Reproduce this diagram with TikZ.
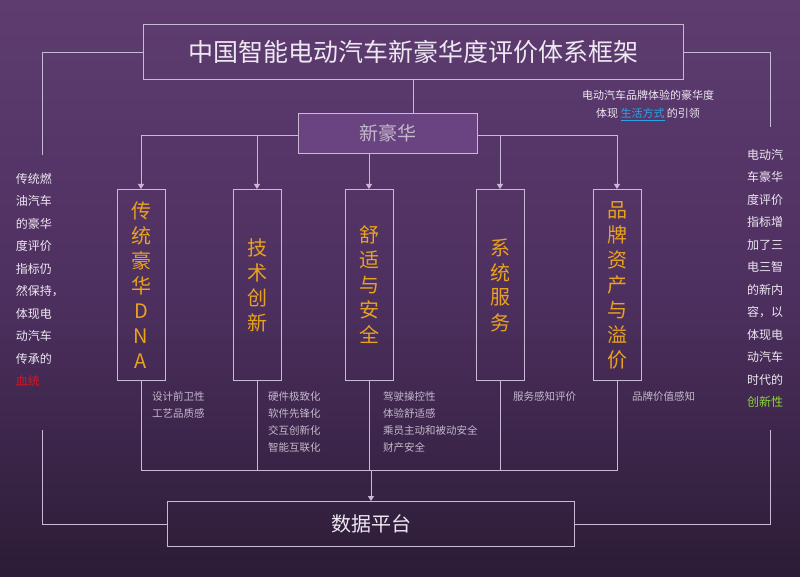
\documentclass[tikz,border=0pt]{standalone}
\usepackage{fontspec}
\newfontfamily\cjk{Noto Sans CJK SC}
\usetikzlibrary{arrows.meta}
\definecolor{ln}{HTML}{C9B8D6}
\definecolor{org}{HTML}{E9A21E}
\definecolor{sub}{HTML}{C4B9CC}
\definecolor{bgtop}{HTML}{5E3C70}
\definecolor{bgbot}{HTML}{2C1C36}
\definecolor{bgmid}{HTML}{4E3060}
\definecolor{boxfill}{HTML}{6A4480}
\definecolor{txt}{HTML}{EEE8F2}
\definecolor{blu}{HTML}{2AA6E8}
\definecolor{rd}{HTML}{E8101A}
\definecolor{grn}{HTML}{8CD23C}
\begin{document}
\begin{tikzpicture}[x=1pt,y=-1pt,
  bx/.style={draw=ln,line width=0.9pt},
  col/.style={bx,minimum width=48pt,minimum height=191pt,anchor=north,text=org,font=\cjk\fontsize{20}{25}\selectfont,align=center,inner sep=0pt},
  sublab/.style={anchor=north west,text=sub,font=\cjk\fontsize{10.5}{17}\selectfont,align=left,inner sep=0pt},
  side/.style={anchor=north,text=txt,font=\cjk\fontsize{12}{22.5}\selectfont,align=left,inner sep=0pt},
  wire/.style={ln,line width=0.9pt},
  arr/.style={wire,-{Triangle[width=6pt,length=5pt]}}]
\shade[top color=bgtop,bottom color=bgbot,middle color=bgmid] (0,0) rectangle (800,577);
\useasboundingbox (0,0) rectangle (800,577);
% title
\node[bx,minimum width=540pt,minimum height=55pt,text=txt,font=\cjk\fontsize{25}{30}\selectfont] (title) at (413,52) {中国智能电动汽车新豪华度评价体系框架};
\node[bx,minimum width=179pt,minimum height=40pt,text=sub,font=\cjk\fontsize{19}{23}\selectfont,fill=boxfill] (xhh) at (388,133) {新豪华};
\node[bx,minimum width=407pt,minimum height=45pt,text=txt,font=\cjk\fontsize{20}{24}\selectfont] (data) at (371,524) {数据平台};
% columns
\node[col] (c1) at (141,189) {传\\统\\豪\\华\\D\\N\\A};
\node[col] (c2) at (257,189) {技\\术\\创\\新};
\node[col] (c3) at (369,189) {舒\\适\\与\\安\\全};
\node[col] (c4) at (500,189) {系\\统\\服\\务};
\node[col] (c5) at (617,189) {品\\牌\\资\\产\\与\\溢\\价};
% top wires
\draw[wire] (title.south -| 413,0) -- (xhh.north -| 413,0);
\coordinate (hl) at (141,135);
\coordinate (hr) at (617,135);
\draw[wire] (hl) -- (hl -| xhh.west);
\draw[wire] (hr -| xhh.east) -- (hr);
\draw[arr] (hl) -- (c1.north);
\draw[arr] (257,135) -- (c2.north);
\draw[arr] (xhh.south -| c3.north) -- (c3.north);
\draw[arr] (500,135) -- (c4.north);
\draw[arr] (hr) -- (c5.north);
% bottom wires
\coordinate (bl) at (141,470);
\coordinate (br) at (617,470);
\coordinate (bm) at (371,470);
\draw[wire] (c1.south) -- (bl) -- (br) -- (c5.south);
\draw[wire] (c2.south) -- (257,470);
\draw[wire] (c3.south) -- (369,470);
\draw[wire] (c4.south) -- (500,470);
\draw[arr] (bm) -- (data.north);
% outer frame
\coordinate (tl) at (42,52); \coordinate (tl2) at (42,155);
\coordinate (bl1) at (42,430); \coordinate (bl2) at (42,524);
\coordinate (tr) at (770,52); \coordinate (tr2) at (770,127);
\coordinate (br1) at (770,430); \coordinate (br2) at (770,524);
\draw[wire] (title.west) -- (tl) -- (tl2);
\draw[wire] (bl1) -- (bl2) -- (data.west);
\draw[wire] (title.east) -- (tr) -- (tr2);
\draw[wire] (br1) -- (br2) -- (data.east);
% sub labels
\node[sublab] (s1) at (152,391) {设计前卫性\\工艺品质感};
\node[sublab] (s2) at (268,391) {硬件极致化\\软件先锋化\\交互创新化\\智能互联化};
\node[sublab] (s3) at (383,391) {驾驶操控性\\体验舒适感\\乘员主动和被动安全\\财产安全};
\node[sublab] (s4) at (513,391) {服务感知评价};
\node[sublab] (s5) at (632,391) {品牌价值感知};
% right note
\node[anchor=north,text=txt,font=\cjk\fontsize{11}{18}\selectfont,align=center,inner sep=0pt] (note) at (648,90) {电动汽车品牌体验的豪华度\\体现 \textcolor{blu}{\underline{生活方式}} 的引领};
% side texts
\node[side] (lt) at (40,173) {传统燃\\油汽车\\的豪华\\度评价\\指标仍\\然保持，\\体现电\\动汽车\\传承的\\\textcolor{rd}{血统}};
\node[side] (rt) at (765,149) {电动汽\\车豪华\\度评价\\指标增\\加了三\\电三智\\的新内\\容，以\\体现电\\动汽车\\时代的\\\textcolor{grn}{创新性}};
\end{tikzpicture}
\end{document}
